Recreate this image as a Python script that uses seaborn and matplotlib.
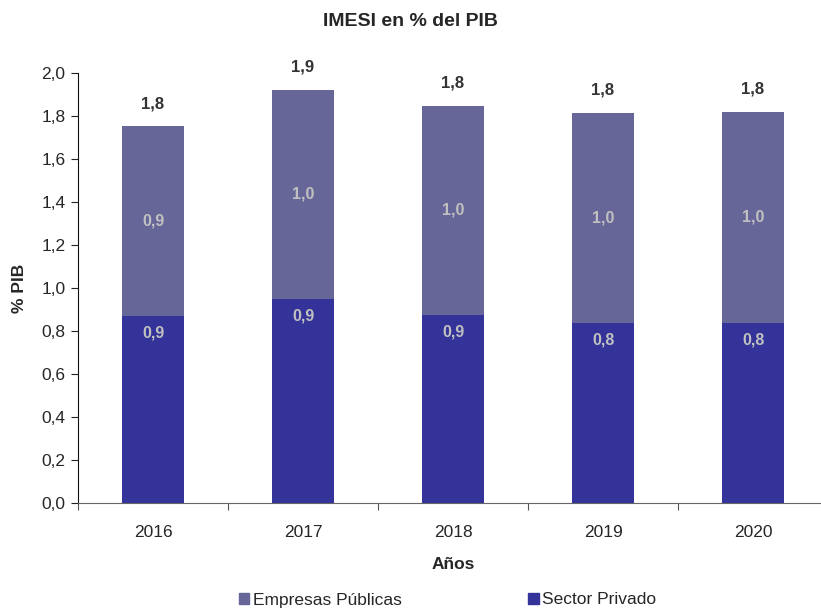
import matplotlib
matplotlib.use("Agg")
import matplotlib.pyplot as plt
import seaborn as sns
import pandas as pd
from matplotlib.patches import Patch

years = ["2016", "2017", "2018", "2019", "2020"]
privado = [0.87, 0.95, 0.875, 0.837, 0.837]
publicas = [0.883, 0.972, 0.973, 0.977, 0.982]
privado_lbl = ["0,9", "0,9", "0,9", "0,8", "0,8"]
publicas_lbl = ["0,9", "1,0", "1,0", "1,0", "1,0"]
total_lbl = ["1,8", "1,9", "1,8", "1,8", "1,8"]
yticks = [0.0, 0.2, 0.4, 0.6, 0.8, 1.0, 1.2, 1.4, 1.6, 1.8, 2.0]

sns.set_style("white")
plt.rcParams["font.family"] = ["Liberation Sans", "DejaVu Sans"]

c_pub = "#666699"
c_priv = "#333399"

df = pd.DataFrame({"year": years, "priv": privado, "pub": publicas})
df["total"] = df["priv"] + df["pub"]

fig = plt.figure(figsize=(8.21, 6.10), dpi=100)
ax = fig.add_axes([78 / 821, (610 - 503) / 610, 750 / 821, 430 / 610])

sns.barplot(data=df, x="year", y="total", color=c_pub, width=0.41,
            saturation=1, linewidth=0, ax=ax)
sns.barplot(data=df, x="year", y="priv", color=c_priv, width=0.41,
            saturation=1, linewidth=0, ax=ax)

for i in range(len(years)):
    ax.text(i, privado[i] - 0.08, privado_lbl[i], ha="center", va="center",
            color="#c0c0c0", fontsize=11.5, fontweight="bold")
    ax.text(i, privado[i] + publicas[i] / 2, publicas_lbl[i], ha="center",
            va="center", color="#c0c0c0", fontsize=11.5, fontweight="bold")
    ax.text(i, df["total"][i] + 0.105, total_lbl[i], ha="center", va="center",
            color="#333333", fontsize=12, fontweight="bold")

ax.set_xlim(-0.5, 4.5)
ax.set_ylim(0, 2.0)
ax.set_yticks(yticks)
ax.set_yticklabels([f"{v:.1f}".replace(".", ",") for v in yticks])
ax.set_xticks([i - 0.5 for i in range(6)], minor=False)
ax.set_xticklabels([])
ax.set_xticks(range(len(years)), minor=True)
ax.set_xticklabels(years, minor=True)
ax.tick_params(axis="x", which="major", direction="out", length=5,
               color="#555555", bottom=True)
ax.tick_params(axis="x", which="minor", length=0, pad=16, labelsize=12.5)
ax.tick_params(axis="y", direction="out", length=5, color="#222222",
               left=True, labelsize=12.5, pad=4)

for s in ["top", "right"]:
    ax.spines[s].set_visible(False)
ax.spines["left"].set_color("#111111")
ax.spines["bottom"].set_color("#666666")

ax.set_xlabel("Años", fontsize=12.5, fontweight="bold", labelpad=12)
ax.set_ylabel("% PIB", fontsize=12.5, fontweight="bold", labelpad=10)
fig.text(0.5, 1 - 22 / 610, "IMESI en % del PIB", ha="center", va="center",
         fontsize=14, fontweight="bold")

handles = [Patch(color=c_pub, label="Empresas Públicas"),
           Patch(color=c_priv, label="Sector Privado")]
fig.legend(handles=handles, loc="center", bbox_to_anchor=(0.545, 1 - 600 / 610),
           ncol=2, frameon=False, fontsize=12.5, handlelength=0.6,
           handleheight=0.6, handletextpad=0.2, columnspacing=7.3)

fig.savefig("out.png", dpi=100)
